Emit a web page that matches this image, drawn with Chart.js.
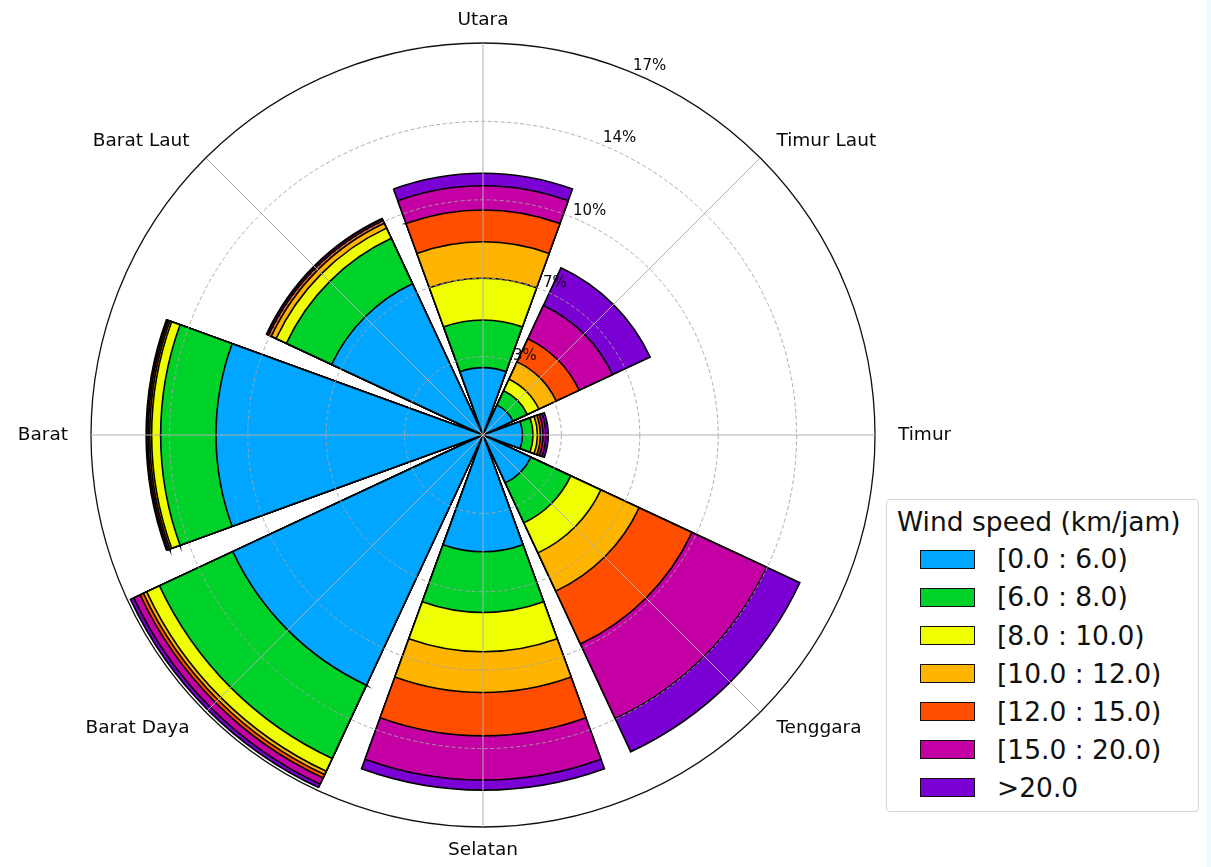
<!DOCTYPE html>
<html>
<head>
<meta charset="utf-8">
<title>Wind rose</title>
<script src="https://cdn.jsdelivr.net/npm/chart.js@4.4.1/dist/chart.umd.min.js"></script>
<style>
  html, body { margin: 0; padding: 0; background: #fff; }
  #wrap { position: relative; width: 1211px; height: 867px; overflow: hidden; background: #fff; }
  #wrap canvas { position: absolute; left: 0; top: 0; }
  .edge { position: absolute; background: #eefbfe; }
  #legend {
    position: absolute; left: 886px; top: 499px; width: 313px; height: 313px;
    box-sizing: border-box; border: 1px solid #d6d6d6; border-radius: 4px;
    background: #fff; font-family: 'DejaVu Sans', sans-serif; color: #111;
  }
  #legend .title { position: absolute; left: 10px; top: 6px; height: 32px; line-height: 32px; font-size: 26.5px; white-space: nowrap; }
  #legend .row { position: absolute; left: 0; height: 30px; width: 100%; }
  #legend .swatch { position: absolute; left: 33px; top: 5.5px; width: 55px; height: 19px; box-sizing: border-box; border: 1px solid #111; }
  #legend .text { position: absolute; left: 110px; top: 0; height: 30px; line-height: 30px; font-size: 26.5px; white-space: nowrap; }
</style>
</head>
<body>
<div id="wrap">
  <canvas id="rose"></canvas>
  <div class="edge" style="right:0;top:0;width:4px;height:867px"></div>
  <div id="legend"></div>
</div>
<script>
// Directions, clockwise from north
const DIRECTIONS = ['Utara', 'Timur Laut', 'Timur', 'Tenggara', 'Selatan', 'Barat Daya', 'Barat', 'Barat Laut'];

// Wind speed classes (km/jam) and their colours
const SPEED_BINS = ['[0.0 : 6.0)', '[6.0 : 8.0)', '[8.0 : 10.0)', '[10.0 : 12.0)', '[12.0 : 15.0)', '[15.0 : 20.0)', '>20.0'];
const BIN_COLORS = ['#00a6ff', '#00d22a', '#f0ff00', '#ffb400', '#ff4e00', '#c400a4', '#7a00d4'];

// Frequency (%) of each speed class per direction (U, TL, T, TG, S, BD, B, BL)
const SPEED_0_6   = [2.92, 1.43, 1.71, 2.29, 5.06, 11.97, 11.58, 7.24];
const SPEED_6_8   = [2.07, 0.69, 0.46, 1.91, 2.64, 3.51, 2.40, 2.17];
const SPEED_8_10  = [1.81, 0.55, 0.19, 1.44, 1.70, 0.61, 0.39, 0.49];
const SPEED_10_12 = [1.58, 0.83, 0.13, 1.83, 1.77, 0.16, 0.08, 0.23];
const SPEED_12_15 = [1.38, 1.10, 0.11, 2.53, 1.88, 0.16, 0.07, 0.12];
const SPEED_15_20 = [1.05, 1.60, 0.12, 3.57, 1.91, 0.30, 0.06, 0.08];
const SPEED_20UP  = [0.54, 1.80, 0.11, 1.59, 0.44, 0.16, 0.03, 0.03];

// Radial axis: 0..17 % split into 5 rings
const R_MAX = 17;
const RING_COUNT = 5;

const BAR_ANGLE = 40;  // degrees per petal
const GAP_ANGLE = 5;   // degrees between petals

const SERIES = [SPEED_0_6, SPEED_6_8, SPEED_8_10, SPEED_10_12, SPEED_12_15, SPEED_15_20, SPEED_20UP];

// Petals are stacked by overlapping: each class is drawn out to its cumulative
// total, the smaller totals sit on top. Every petal is followed by an empty gap slot.
const running = DIRECTIONS.map(() => 0);
const datasets = SERIES.map((vals, k) => {
  const data = [];
  vals.forEach((v, i) => {
    running[i] += v;
    data.push(+running[i].toFixed(3), 0);
  });
  return {
    label: SPEED_BINS[k],
    data,
    rAxisID: 'petal',
    backgroundColor: BIN_COLORS[k],
    borderColor: '#000',
    borderWidth: ctx => (ctx.dataIndex % 2 === 0 ? 1.6 : 0),
    borderJoinStyle: 'miter',
    angle: ctx => (ctx.dataIndex % 2 === 0 ? BAR_ANGLE : GAP_ANGLE)
  };
});

// Compass labels and percentage labels, placed with the radial scale
const roseText = {
  id: 'roseText',
  afterDraw(chart) {
    const scale = chart.scales.r;
    const ctx = chart.ctx;
    ctx.save();
    ctx.fillStyle = '#0a0a0a';

    ctx.font = '18.5px "DejaVu Sans"';
    ctx.textBaseline = 'middle';
    DIRECTIONS.forEach((name, i) => {
      const p = scale.getPointPosition(i, scale.drawingArea + 23);
      const s = Math.sin(i * Math.PI / 4);
      ctx.textAlign = Math.abs(s) < 0.01 ? 'center' : (s > 0 ? 'left' : 'right');
      ctx.fillText(name, p.x, p.y);
    });

    ctx.font = '15px "DejaVu Sans"';
    ctx.textAlign = 'left';
    ctx.textBaseline = 'alphabetic';
    const a = 22.5 * Math.PI / 180;
    scale.ticks.forEach(t => {
      if (t.value <= 0) return;
      const d = scale.getDistanceFromCenterForValue(t.value);
      const x = scale.xCenter + d * Math.sin(a);
      const y = scale.yCenter - d * Math.cos(a);
      ctx.fillText(Math.round(t.value) + '%', x, y - 3);
    });
    ctx.restore();
  }
};

const isOuter = ctx => ctx.tick && ctx.tick.value >= R_MAX - 1e-6;

new Chart(document.getElementById('rose'), {
  type: 'polarArea',
  data: { labels: DIRECTIONS, datasets },
  options: {
    responsive: true,
    maintainAspectRatio: false,
    animation: false,
    events: [],
    layout: { padding: { left: 91, right: 336, top: 43, bottom: 40 } },
    plugins: {
      legend: { display: false },
      tooltip: { enabled: false }
    },
    scales: {
      r: {
        type: 'radialLinear',
        axis: 'r',
        min: 0,
        max: R_MAX,
        startAngle: 0,
        ticks: { display: false, count: RING_COUNT + 1 },
        pointLabels: { display: false },
        angleLines: { display: true, color: '#b0b0b0', lineWidth: 1 },
        grid: {
          circular: true,
          z: 1,
          color: ctx => (isOuter(ctx) ? '#111' : '#a4a4a4'),
          lineWidth: ctx => (isOuter(ctx) ? 1.3 : 0.9)
        },
        border: { dash: ctx => (isOuter(ctx) ? [] : [4, 2.5]) }
      },
      petal: {
        type: 'radialLinear',
        axis: 'r',
        min: 0,
        max: R_MAX,
        startAngle: -BAR_ANGLE / 2,
        ticks: { display: false },
        pointLabels: { display: false },
        angleLines: { display: false },
        grid: { display: false }
      }
    }
  },
  plugins: [roseText]
});

// Legend
const legend = document.getElementById('legend');
legend.innerHTML = '<div class="title">Wind speed (km/jam)</div>' +
  SPEED_BINS.map((name, k) =>
    `<div class="row" style="top:${44.3 + 38.1 * k}px">` +
    `<div class="swatch" style="background:${BIN_COLORS[k]}"></div>` +
    `<div class="text">${name}</div></div>`).join('');
</script>
</body>
</html>
